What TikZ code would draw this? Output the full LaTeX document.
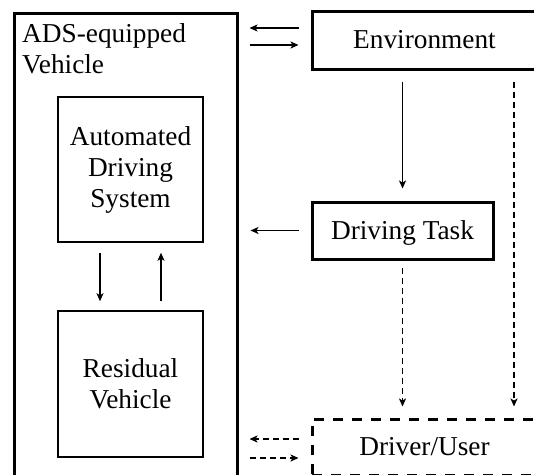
\documentclass[tikz,border=0pt]{standalone}
\usepackage{fontspec}
\setmainfont{Liberation Serif}
\usetikzlibrary{arrows.meta,calc}
\begin{document}
\begin{tikzpicture}[x=1pt,y=-1pt,
  font=\fontsize{27.3}{31}\selectfont,
  thickbox/.style={draw,line width=3pt,inner sep=0pt,align=center},
  thinbox/.style={draw,line width=1.5pt,inner sep=0pt,align=center},
  dashbox/.style={draw,line width=3pt,inner sep=0pt,align=center,dash pattern=on 10pt off 9pt},
  arr/.style={line width=1.4pt,-{Stealth[length=8pt,width=7pt,inset=2pt]}},
  darr/.style={arr,dash pattern=on 6pt off 4pt}]
\useasboundingbox (0,0) rectangle (534,474);
\clip (0,0) rectangle (534,474);
% outer vehicle box
\node[thickbox,minimum width=223pt,minimum height=507pt] (veh) at (125.5,266.5) {};
\node[anchor=north west,inner sep=0pt,align=left] (vehlabel) at (22,23.5) {ADS-equipped\\Vehicle};
% inner boxes
\node[thinbox,minimum width=145pt,minimum height=145pt] (ads) at (130.5,169.5) {Automated\\Driving\\System};
\node[thinbox,minimum width=145pt,minimum height=146pt] (res) at (130.5,384) {Residual\\Vehicle};
% right boxes
\node[thickbox,minimum width=225pt,minimum height=58pt] (env) at (424.5,40) {Environment};
\node[thickbox,minimum width=181pt,minimum height=57pt,text depth=0pt] (dt) at (402.5,230.5) {Driving Task};
\node[dashbox,minimum width=225pt,minimum height=56pt] (drv) at (424.5,447) {Driver/User};
% arrows vehicle <-> environment
\draw[arr,shorten <=12pt,shorten >=11pt] ([yshift=12pt]env.west) -- ([yshift=12pt]env.west -| veh.east);
\draw[arr,shorten <=11pt,shorten >=12pt] ([yshift=-5pt]env.west -| veh.east) -- ([yshift=-5pt]env.west);
% environment -> driving task
\draw[arr,shorten <=11pt,shorten >=12pt] (env.south -| dt.north) -- (dt.north);
% environment -> driver (dashed)
\draw[darr,shorten <=11pt,shorten >=11pt] ([xshift=89.5pt]env.south) -- ([xshift=89.5pt]drv.north);
% driving task -> vehicle
\draw[arr,shorten <=12pt,shorten >=12pt] (dt.west) -- (dt.west -| veh.east);
% driving task -> driver (dashed)
\draw[darr,shorten <=7pt,shorten >=11pt] (dt.south) -- (dt.south |- drv.north);
% driver <-> vehicle (dashed)
\draw[darr,shorten <=12pt,shorten >=11pt] ([yshift=8pt]drv.west) -- ([yshift=8pt]drv.west -| veh.east);
\draw[darr,shorten <=11pt,shorten >=12pt] ([yshift=-11pt]drv.west -| veh.east) -- ([yshift=-11pt]drv.west);
% ADS <-> residual vehicle
\draw[arr,shorten <=10pt,shorten >=9pt] ([xshift=-30.5pt]ads.south) -- ([xshift=-30.5pt]res.north);
\draw[arr,shorten <=9pt,shorten >=10pt] ([xshift=30.5pt]res.north) -- ([xshift=30.5pt]ads.south);
\end{tikzpicture}
\end{document}
